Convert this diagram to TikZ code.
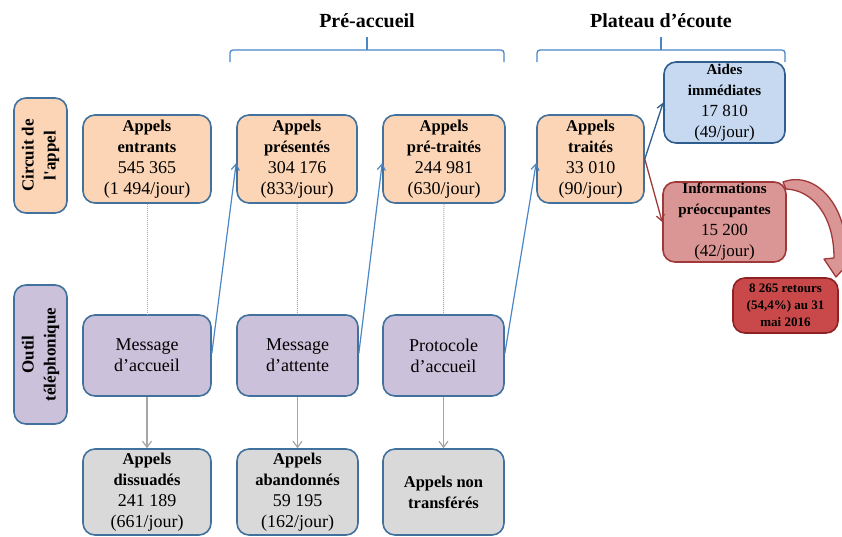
\documentclass[tikz,border=0pt]{standalone}
\usepackage{fontspec}
\setmainfont{Liberation Serif}
\usetikzlibrary{arrows.meta}
\definecolor{bord}{HTML}{41719C}
\definecolor{orangef}{HTML}{FBD5B5}
\definecolor{purplef}{HTML}{CCC1DA}
\definecolor{grayf}{HTML}{D9D9D9}
\definecolor{aidesf}{HTML}{C6D9F1}
\definecolor{aidesb}{HTML}{2F5D8E}
\definecolor{infof}{HTML}{D99694}
\definecolor{infob}{HTML}{A0393A}
\definecolor{retf}{HTML}{C9494A}
\definecolor{retb}{HTML}{8C2222}
\definecolor{lineblue}{HTML}{4A86C8}
\definecolor{linegray}{HTML}{A6A6A6}
\newcommand\bl[1]{{\bfseries\fontsize{16.5}{21}\selectfont #1}}
\newcommand\rg[1]{{\fontsize{18}{21}\selectfont #1}}
\newcommand\bls[1]{{\bfseries\fontsize{15}{20}\selectfont #1}}
\newcommand\rgs[1]{{\fontsize{17}{20}\selectfont #1}}
\tikzset{
  box/.style={draw=bord, line width=1.6pt, rounded corners=12pt, align=center,
    inner sep=0pt, font=\fontsize{16}{21}\selectfont},
  orbox/.style={box, fill=orangef},
  pubox/.style={box, fill=purplef, font=\fontsize{18}{21}\selectfont},
  grbox/.style={box, fill=grayf},
  sidebox/.style={box, fill=#1, minimum width=53pt},
  dotline/.style={draw=linegray, line width=1pt, densely dotted},
  grarrow/.style={draw=linegray, line width=1.2pt, -{Straight Barb[length=6pt,width=9pt]}},
  blarrow/.style={draw=lineblue, line width=1.2pt, -{Straight Barb[length=6pt,width=8pt]}},
  brace/.style={draw=lineblue, line width=1.3pt, rounded corners=3pt},
  title/.style={font=\bfseries\fontsize{20}{24}\selectfont}
}
\begin{document}
\begin{tikzpicture}[x=1pt,y=-1pt]
\useasboundingbox (0,0) rectangle (842,536);
% side labels
\node[sidebox=orangef, minimum height=115pt] (circ) at (40.5,155.5) {};
\node[rotate=90, align=center, font=\bfseries\fontsize{17}{22}\selectfont] (circt) at (circ.center) {Circuit de\\l\textquotesingle appel};
\node[sidebox=purplef, minimum height=139pt] (outil) at (40.5,354.5) {};
\node[rotate=90, align=center, font=\bfseries\fontsize{17}{22}\selectfont] (outilt) at (outil.center) {Outil\\téléphonique};
% row 1
\node[orbox, minimum width=128pt, minimum height=88pt] (entr) at (147,159) {\bl{Appels}\\\bl{entrants}\\\rg{545 365}\\\rg{(1 494/jour)}};
\node[orbox, minimum width=120pt, minimum height=88pt] (pres) at (297,159) {\bl{Appels}\\\bl{présentés}\\\rg{304 176}\\\rg{(833/jour)}};
\node[orbox, minimum width=122pt, minimum height=88pt] (pret) at (444,159) {\bl{Appels}\\\bl{pré-traités}\\\rg{244 981}\\\rg{(630/jour)}};
\node[orbox, minimum width=107pt, minimum height=88pt] (trait) at (590.5,159) {\bl{Appels}\\\bl{traités}\\\rg{33 010}\\\rg{(90/jour)}};
\node[box, draw=aidesb, fill=aidesf, minimum width=121pt, minimum height=81pt] (aides) at (724.5,102.5) {\bls{Aides}\\\bls{immédiates}\\\rgs{17 810}\\\rgs{(49/jour)}};
\node[box, draw=infob, fill=infof, minimum width=123pt, minimum height=80pt] (info) at (724.5,222) {\bls{Informations}\\\bls{préoccupantes}\\\rgs{15 200}\\\rgs{(42/jour)}};
\node[box, draw=retb, fill=retf, minimum width=105pt, minimum height=55pt, font=\bfseries\fontsize{13}{17}\selectfont] (ret) at (785.5,305.5) {8 265 retours\\(54,4\%) au 31\\mai 2016};
% row 2
\node[pubox, minimum width=128pt, minimum height=81pt] (macc) at (147,355.5) {Message\\d’accueil};
\node[pubox, minimum width=121pt, minimum height=81pt] (matt) at (297.5,355.5) {Message\\d’attente};
\node[pubox, minimum width=121pt, minimum height=81pt] (proto) at (443.5,355.5) {Protocole\\d’accueil};
% row 3
\node[grbox, minimum width=128pt, minimum height=86pt] (diss) at (147,492) {\bl{Appels}\\\bl{dissuadés}\\\rg{241 189}\\\rg{(661/jour)}};
\node[grbox, minimum width=121pt, minimum height=86pt] (aban) at (297.5,492) {\bl{Appels}\\\bl{abandonnés}\\\rg{59 195}\\\rg{(162/jour)}};
\node[grbox, minimum width=121pt, minimum height=86pt] (nont) at (443.5,492) {\bl{Appels non}\\\bl{transférés}};
% titles and braces
\node[title] (tpre) at (367,21) {Pré-accueil};
\node[title] (tplat) at (661,21) {Plateau d’écoute};
\coordinate (bpreL) at (230,62);
\coordinate (bpreR) at (504,62);
\coordinate (bplaL) at (537,62);
\coordinate (bplaR) at (785,62);
\draw[brace] (bpreL) -- (230,50) -- (504,50) -- (bpreR);
\draw[draw=lineblue, line width=1.3pt] (367,50) -- (367,37);
\draw[brace] (bplaL) -- (537,50) -- (785,50) -- (bplaR);
\draw[draw=lineblue, line width=1.3pt] (661,50) -- (661,37);
% vertical connectors
\draw[dotline] (entr.south) -- (macc.north);
\draw[dotline] (pres.south) -- (matt.north);
\draw[dotline] (pret.south) -- (proto.north);
\draw[grarrow] (macc.south) -- (diss.north);
\draw[grarrow] (matt.south) -- (aban.north);
\draw[grarrow] (proto.south) -- (nont.north);
% blue diagonals
\draw[blarrow] ([yshift=2pt]macc.east) -- ([yshift=-4pt]pres.west);
\draw[blarrow] ([yshift=2pt]matt.east) -- ([yshift=-4pt]pret.west);
\draw[blarrow] ([yshift=2pt]proto.east) -- ([yshift=-4pt]trait.west);
\draw[draw=aidesb, line width=1.3pt, -{Straight Barb[length=6pt,width=8pt]}] (trait.east) -- (aides.west);
\draw[draw=infob, line width=1.3pt, -{Straight Barb[length=6pt,width=8pt]}] (trait.east) -- (info.west);
% curved arrow
\draw[draw=infob, fill=infof, line width=1.3pt, line join=round]
  (783,182) .. controls (815,170) and (848,205) .. (846,256)
  -- (856,255) -- (836,277) -- (824,259) -- (834,258)
  .. controls (834,215) and (812,190) .. (786,189) -- cycle;
\end{tikzpicture}
\end{document}
